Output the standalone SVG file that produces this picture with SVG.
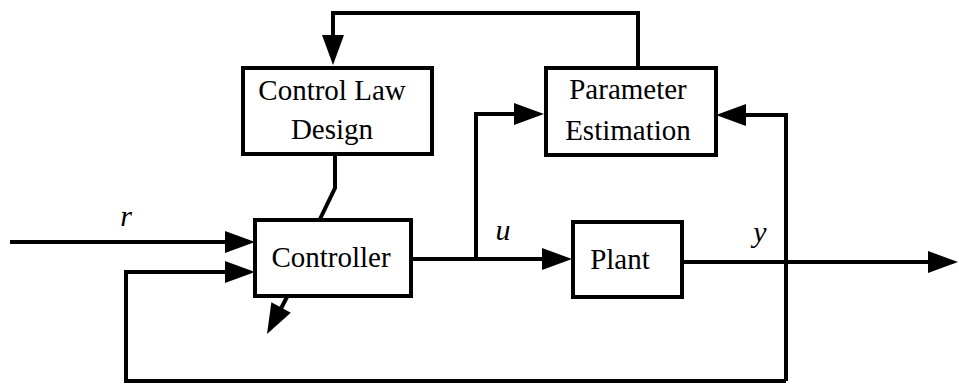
<svg xmlns="http://www.w3.org/2000/svg" width="959" height="388" viewBox="0 0 959 388">
<style>
.box{fill:#fff;stroke:#000;stroke-width:4}
.ln{fill:none;stroke:#000;stroke-width:4;stroke-linejoin:miter}
.ah{fill:#000;stroke:none}
</style>
<defs>
<path id="head" d="M-30,-11 L0,0 L-30,11 Z"/>
</defs>
<g id="connectors">
<path class="ln" d="M10,242 H240"/>
<path class="ln" d="M786,381 H126 V272 H240"/>
<path class="ln" d="M786,381 V115 H730"/>
<path class="ln" d="M638,67 V13 H333 V50"/>
<path class="ln" d="M335,154 V188 L320,219"/>
<path class="ln" d="M411,259 H560"/>
<path class="ln" d="M476,259 V114 H530"/>
<path class="ln" d="M682,262 H940"/>
<path class="ln" d="M287,297 L277,316"/>
<use class="ah" href="#head" transform="translate(255,242)"/>
<use class="ah" href="#head" transform="translate(255,272)"/>
<use class="ah" href="#head" transform="translate(716,115) rotate(180)"/>
<use class="ah" href="#head" transform="translate(333,65) rotate(90)"/>
<use class="ah" href="#head" transform="translate(572,259)"/>
<use class="ah" href="#head" transform="translate(544,114)"/>
<use class="ah" href="#head" transform="translate(958,262)"/>
<use class="ah" href="#head" transform="translate(267,334) rotate(118)"/>
</g>
<g id="control-law-design">
<rect class="box" x="243" y="68" width="189" height="86"/>
<text x="332" y="100" style="font-family:'Liberation Serif',serif" font-size="29" text-anchor="middle">Control Law</text>
<text x="332" y="139" style="font-family:'Liberation Serif',serif" font-size="29" text-anchor="middle">Design</text>
</g>
<g id="parameter-estimation">
<rect class="box" x="546" y="68" width="170" height="87"/>
<text x="628" y="99" style="font-family:'Liberation Serif',serif" font-size="29" text-anchor="middle">Parameter</text>
<text x="628" y="140" style="font-family:'Liberation Serif',serif" font-size="29" text-anchor="middle">Estimation</text>
</g>
<g id="controller">
<rect class="box" x="255" y="220" width="156" height="76"/>
<text x="331" y="267" style="font-family:'Liberation Serif',serif" font-size="29" text-anchor="middle">Controller</text>
</g>
<g id="plant">
<rect class="box" x="573" y="222" width="109" height="75"/>
<text x="620" y="269" style="font-family:'Liberation Serif',serif" font-size="29" text-anchor="middle">Plant</text>
</g>
<g id="labels">
<text x="126" y="226" style="font-family:'Liberation Serif',serif" font-size="30" font-style="italic" text-anchor="middle">r</text>
<text x="503" y="240" style="font-family:'Liberation Serif',serif" font-size="30" font-style="italic" text-anchor="middle">u</text>
<text x="760" y="242" style="font-family:'Liberation Serif',serif" font-size="30" font-style="italic" text-anchor="middle">y</text>
</g>
</svg>
